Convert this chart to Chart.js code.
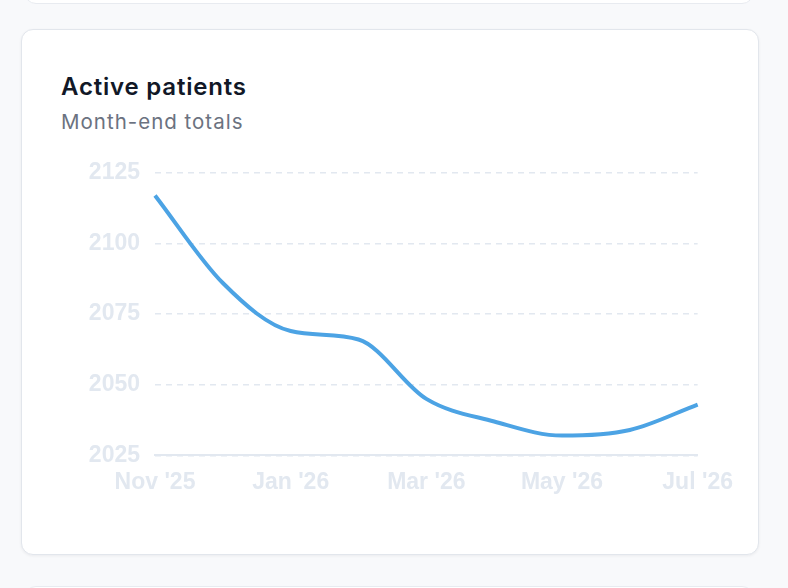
<!DOCTYPE html>
<html>
<head>
<meta charset="utf-8">
<script src="https://cdn.jsdelivr.net/npm/chart.js@4.4.1/dist/chart.umd.min.js"></script>
<style>
  html, body { margin: 0; padding: 0; }
  body {
    width: 788px; height: 588px; overflow: hidden;
    background: #f8f9fb; position: relative;
    font-family: Inter, "Noto Sans", sans-serif;
  }
  .ghost {
    position: absolute; left: 24px; width: 728px; height: 40px;
    background: #fff; border: 1px solid #e8ebf0; border-radius: 12px;
  }
  .card {
    position: absolute; left: 21px; top: 29px; width: 736px; height: 524px;
    background: #fff; border: 1px solid #e2e6ec; border-radius: 12px;
    box-shadow: 0 1px 3px rgba(15, 23, 42, 0.06);
  }
  h1 {
    position: absolute; left: 39px; top: 42px; margin: 0;
    font-size: 24px; line-height: 29px; font-weight: 600; color: #111827; letter-spacing: 0.8px;
  }
  .sub {
    position: absolute; left: 39px; top: 79px; margin: 0;
    font-size: 20.5px; line-height: 25px; color: #6b7280; letter-spacing: 1px;
  }
  .wrap { position: absolute; left: 39px; top: 114px; width: 685px; height: 365px; }
</style>
</head>
<body>
<div class="ghost" style="top:-38px"></div>
<div class="ghost" style="top:586px"></div>
<div class="card">
  <h1>Active patients</h1>
  <p class="sub">Month-end totals</p>
  <div class="wrap"><canvas id="patientsChart"></canvas></div>
</div>
<script>
// Month-end active patient totals
var months = ["Nov '25", "Dec '25", "Jan '26", "Feb '26", "Mar '26", "Apr '26", "May '26", "Jun '26", "Jul '26"]
var activePatients = [2117, 2086, 2069, 2066, 2045, 2037, 2032, 2034, 2043]
var yMin = 2025
var yMax = 2125
var yStep = 25

var tickColor = '#e2e8f0'
var tickFont = { family: "'Liberation Sans', Arial, sans-serif", size: 23, weight: 'bold' }

var patientsChart = new Chart(document.getElementById('patientsChart'), {
  type: 'line',
  data: {
    labels: months,
    datasets: [
      {
        label: 'Active patients',
        data: activePatients,
        borderColor: '#4ca3e4',
        borderWidth: 4,
        cubicInterpolationMode: 'monotone',
        pointRadius: 0,
        fill: false
      }
    ]
  },
  options: {
    responsive: true,
    maintainAspectRatio: false,
    animation: false,
    plugins: {
      legend: { display: false },
      tooltip: { enabled: false }
    },
    scales: {
      x: {
        grid: { display: false, drawTicks: false },
        border: { display: true, color: tickColor, width: 2 },
        ticks: {
          color: tickColor,
          padding: 13,
          maxRotation: 0,
          autoSkip: false,
          callback: function(v, i) { return i % 2 == 0 ? this.getLabelForValue(v) : '' },
          font: tickFont
        }
      },
      y: {
        min: yMin,
        max: yMax,
        afterFit: function(scale) { scale.width = 94 },
        grid: { color: tickColor, lineWidth: 1.5, drawTicks: false },
        border: { display: false, dash: [6, 5] },
        ticks: {
          stepSize: yStep,
          color: tickColor,
          padding: 15,
          callback: function(v) { return String(v) },
          font: tickFont
        }
      }
    }
  }
});
</script>
</body>
</html>
